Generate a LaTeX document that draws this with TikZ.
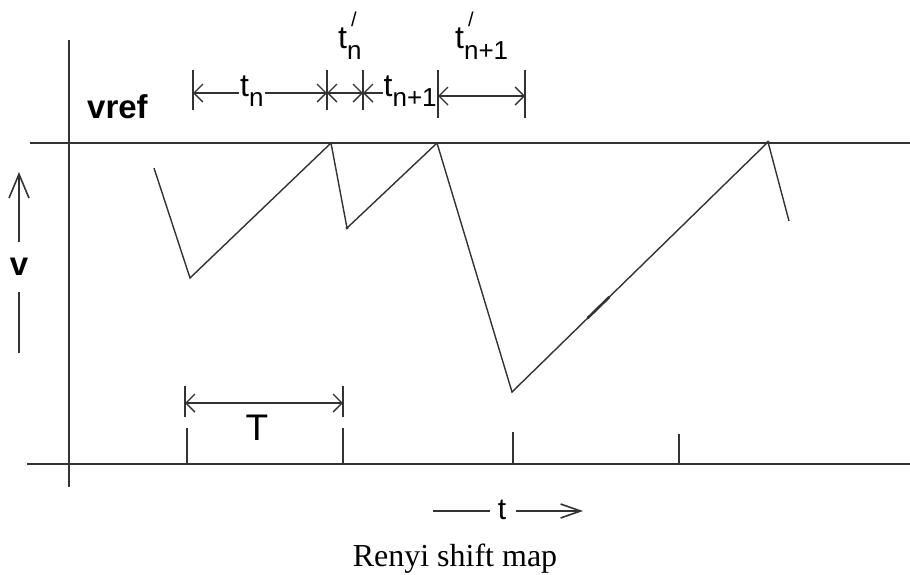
\documentclass[tikz,border=0pt]{standalone}
\usepackage{fontspec}
\setmainfont{Liberation Serif}
\newfontfamily\lab{Liberation Sans}
\usetikzlibrary{arrows.meta,calc}
\newcommand\subsz{\fontsize{26}{26}\selectfont}
\newcommand\tlab[1]{t\raisebox{-10pt}{\subsz #1}}
\newcommand\tplab[1]{t\makebox[0pt][l]{\hspace{4pt}\raisebox{22pt}{\fontsize{20}{20}\selectfont /}}\raisebox{-11pt}{\subsz #1}}
\tikzset{
  axisline/.style={draw=black!80, line width=1.8pt},
  wave/.style={draw=black!80, line width=1.4pt, line join=miter},
  tickline/.style={draw=black!80, line width=1.6pt},
  dimline/.style={draw=black!80, line width=1.4pt, {Straight Barb[length=9pt,width=18pt]}-{Straight Barb[length=9pt,width=18pt]}},
  lbl/.style={font=\lab\fontsize{32}{32}\selectfont, inner sep=1pt, anchor=base west},
  lblw/.style={lbl, fill=white},
}
\begin{document}
\begin{tikzpicture}[x=1pt,y=-1pt]
\useasboundingbox (0,0) rectangle (910,574);
% axes
\coordinate (va1) at (69,40); \coordinate (va2) at (69,487);
\coordinate (vr1) at (30,143); \coordinate (vr2) at (910,143);
\coordinate (ba1) at (27,464); \coordinate (ba2) at (910,464);
\draw[axisline] (va1) -- (va2);
\draw[axisline] (vr1) -- (vr2);
\draw[axisline] (ba1) -- (ba2);
% waveform
\coordinate (w0) at (154,168);
\coordinate (w1) at (190,278);
\coordinate (w2) at (331,143);
\coordinate (w3) at (347,228);
\coordinate (w4) at (437,143);
\coordinate (w5) at (512,392);
\coordinate (w6) at (768,142);
\coordinate (w7) at (789,221);
\draw[wave] (w0) -- (w1) -- (w2) -- (w3) -- (w4) -- (w5) -- (w6) -- (w7);
\coordinate (bl1) at ($(w5)!0.295!(w6)$); \coordinate (bl2) at ($(w5)!0.38!(w6)$);
\draw[wave, line width=2.6pt] (bl1) -- (bl2);
\fill[black!80] (w3) circle (1.6pt);
\fill[black!80] (w6) circle (1.6pt);
% bottom ticks
\foreach \x/\y [count=\i] in {187/428,343/428,513/432,679/434}{
  \coordinate (tt\i) at (\x,\y); \coordinate (tb\i) at (\x,464);
  \draw[tickline] (tt\i) -- (tb\i);
}
% T dimension
\coordinate (Ta) at (185,386); \coordinate (Tb) at (185,417);
\coordinate (Tc) at (343,386); \coordinate (Td) at (343,417);
\draw[tickline] (Ta) -- (Tb);
\draw[tickline] (Tc) -- (Td);
\coordinate (Tl) at (185,403); \coordinate (Tr) at (343,403);
\draw[dimline] (Tl) -- (Tr);
\node[font=\lab\fontsize{37}{37}\selectfont, inner sep=0pt, anchor=base] (Tlab) at (257,440) {T};
% top dimension ticks
\foreach \x/\b [count=\i] in {193/110,327/110,363/110,438/118,525/118}{
  \coordinate (dt\i) at (\x,70); \coordinate (db\i) at (\x,\b);
  \draw[tickline] (dt\i) -- (db\i);
}
\coordinate (d1) at (193,93); \coordinate (d2) at (327,93);
\coordinate (d3) at (363,93); \coordinate (d4) at (438,93);
\coordinate (d4b) at (438,96); \coordinate (d5) at (525,96);
\draw[dimline] (d1) -- (d2);
\draw[dimline] (d2) -- (d3);
\draw[dimline] (d3) -- (d4);
\draw[dimline] (d4b) -- (d5);
\node[lblw] (ltn) at (239,96) {\tlab{n}};
\node[lblw, inner sep=0.5pt] (ltn1) at (383,96) {\tlab{n+1}};
\node[lbl] (lptn) at (337,48) {\tplab{n}};
\node[lbl] (lptn1) at (454,48) {\tplab{n+1}};
% vref
\node[font=\lab\bfseries\fontsize{33}{33}\selectfont, inner sep=0pt, anchor=base west] (vref) at (87,118) {vref};
% v arrow
\coordinate (ya) at (19,242); \coordinate (yb) at (19,172);
\draw[draw=black!80, line width=1.6pt, -{Straight Barb[length=24pt,width=20pt]}] (ya) -- (yb);
\node[font=\lab\bfseries\fontsize{33}{33}\selectfont, inner sep=0pt, anchor=base] (vlab) at (19,275) {v};
\coordinate (yc) at (19,292); \coordinate (yd) at (19,353);
\draw[draw=black!80, line width=1.6pt] (yc) -- (yd);
% t arrow
\coordinate (ta) at (433,511); \coordinate (tb) at (490,511);
\coordinate (tc) at (516,511); \coordinate (td) at (583,511);
\draw[draw=black!80, line width=1.6pt] (ta) -- (tb);
\node[font=\lab\fontsize{30}{30}\selectfont, inner sep=0pt, anchor=base] (tlab) at (502,519) {t};
\draw[draw=black!80, line width=1.6pt, -{Straight Barb[length=20pt,width=14pt]}] (tc) -- (td);
% caption
\node[font=\fontsize{32}{32}\selectfont, inner sep=0pt, anchor=base] (cap) at (455,566) {Renyi shift map};
\end{tikzpicture}
\end{document}
